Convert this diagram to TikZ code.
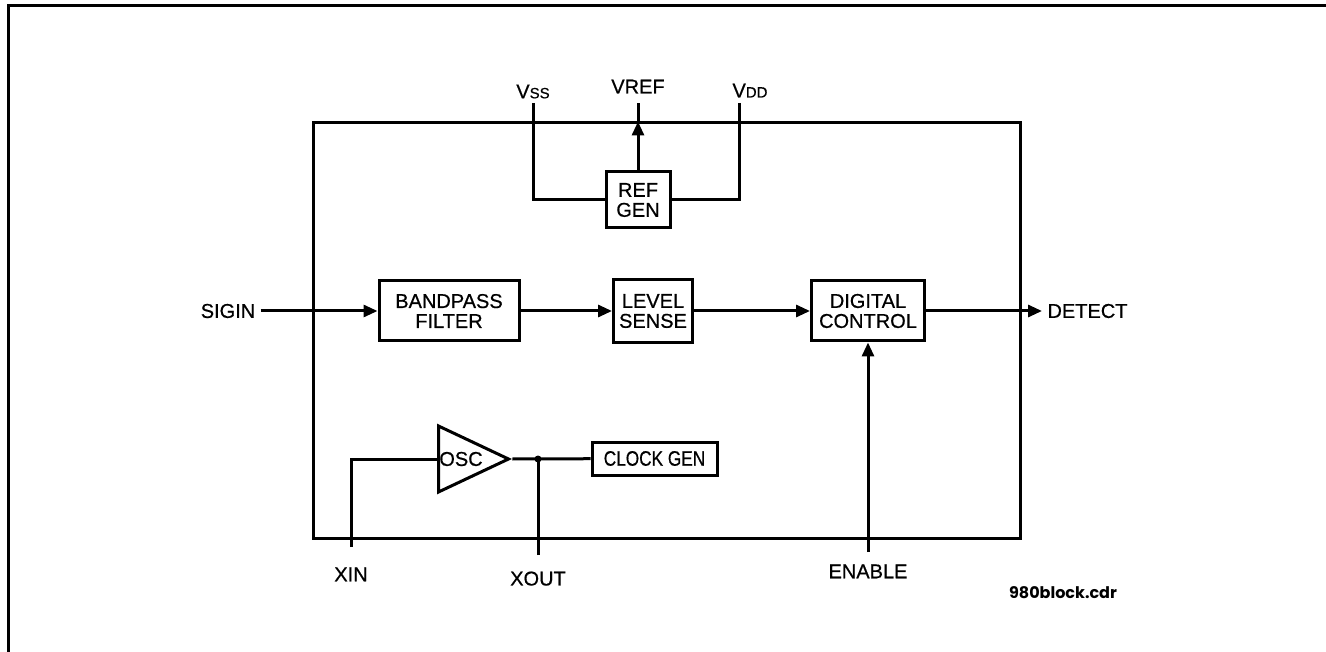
\documentclass[tikz,border=0pt]{standalone}
\usepackage{fontspec}
\setmainfont{Liberation Sans}[FakeBold=0.6]
\newfontfamily\narrowsans{Liberation Sans}[FakeStretch=0.82,FakeBold=0.6]
\newfontfamily\notefont{Poppins}
\usetikzlibrary{arrows.meta,positioning,shapes.geometric}
\newcommand{\pinname}[2]{#1{\fontsize{15}{15}\selectfont #2}}

\begin{document}
\begin{tikzpicture}[
    x=1pt, y=-1pt,
    font=\fontsize{20}{20}\selectfont,
    line width=3pt,
    node distance=6pt,
    block/.style={draw,line width=3pt,align=center,inner sep=2pt},
    chipbox/.style={draw,line width=3pt,minimum width=707pt,minimum height=415pt,inner sep=0pt},
    pinlbl/.style={inner sep=4pt},
    amp/.style={draw,line width=3pt,isosceles triangle,isosceles triangle stretches,minimum width=66pt,minimum height=70pt,inner sep=0pt},
    tap/.style={circle,fill,inner sep=0pt,minimum size=7pt},
    note/.style={font=\notefont\bfseries\fontsize{16}{16}\selectfont,inner sep=0pt},
    >={Triangle[length=14pt,width=12pt]}
]
\useasboundingbox (0,0) rectangle (1326,652);
\draw (8,652) -- (8,6) -- (1326,6);

\node[chipbox] (chip) at (666.5,330.5) {};

% supply pins and reference
\node[block,minimum width=64pt,minimum height=56pt] (refgen) at (638,200) {REF\\GEN};
\coordinate (vsspin) at (533,103);
\coordinate (vrefpin) at (638,103);
\coordinate (vddpin) at (739,103);
\node[inner sep=2pt,above=1pt of vsspin] (vss) {\pinname{V}{SS}};
\node[inner sep=2pt,above=6pt of vrefpin] (vref) {VREF};
\node[inner sep=2pt,above=2pt of vddpin,xshift=11pt] (vdd) {\pinname{V}{DD}};

\draw (vsspin) |- (refgen.west);
\draw (vddpin) |- (refgen.east);
\draw[->] (refgen.north) -- (refgen.north |- chip.north);
\draw (refgen.north |- chip.north) -- (vrefpin);

% signal path
\node[pinlbl] (sigin) at (228,311) {SIGIN};
\node[block,minimum width=140pt,minimum height=60pt] (bpf) at (449,311) {BANDPASS\\FILTER};
\node[block,minimum width=79pt,minimum height=63pt] (lvl) at (653,311) {LEVEL\\SENSE};
\node[block,minimum width=113pt,minimum height=60pt] (dig) at (868,311) {DIGITAL\\CONTROL};
\node[pinlbl,anchor=west] (detect) at (1042,311) {DETECT};

\draw[->] (sigin) -- (bpf);
\draw[->] (bpf) -- (lvl);
\draw[->] (lvl) -- (dig);
\draw[->] (dig) -- (detect);

\coordinate (enpin) at (868,552);
\node[pinlbl,below=7pt of enpin] (enable) {ENABLE};
\draw[->] (enpin) -- (dig.south);

% oscillator
\node[amp,anchor=west] (osc) at (437,459) {};
\node[inner sep=0pt] (osclbl) at (461,459) {OSC};
\node[block,minimum width=125pt,minimum height=33pt,font=\narrowsans\fontsize{21}{21}\selectfont] (clk) at (654.5,458.5) {CLOCK GEN};
\coordinate (xinpin) at (351,547);
\coordinate (xoutpin) at (538,555);
\node[pinlbl,below=15pt of xinpin] (xin) {XIN};
\node[pinlbl,below=11pt of xoutpin] (xout) {XOUT};

\draw (xinpin) |- (osc.west);
\draw (osc.apex) -- (clk);
\draw (xoutpin) -- (xoutpin |- osc.apex) node[tap] (xtap) {};

\node[note] (fname) at (1063,593) {980block.cdr};
\end{tikzpicture}
\end{document}
